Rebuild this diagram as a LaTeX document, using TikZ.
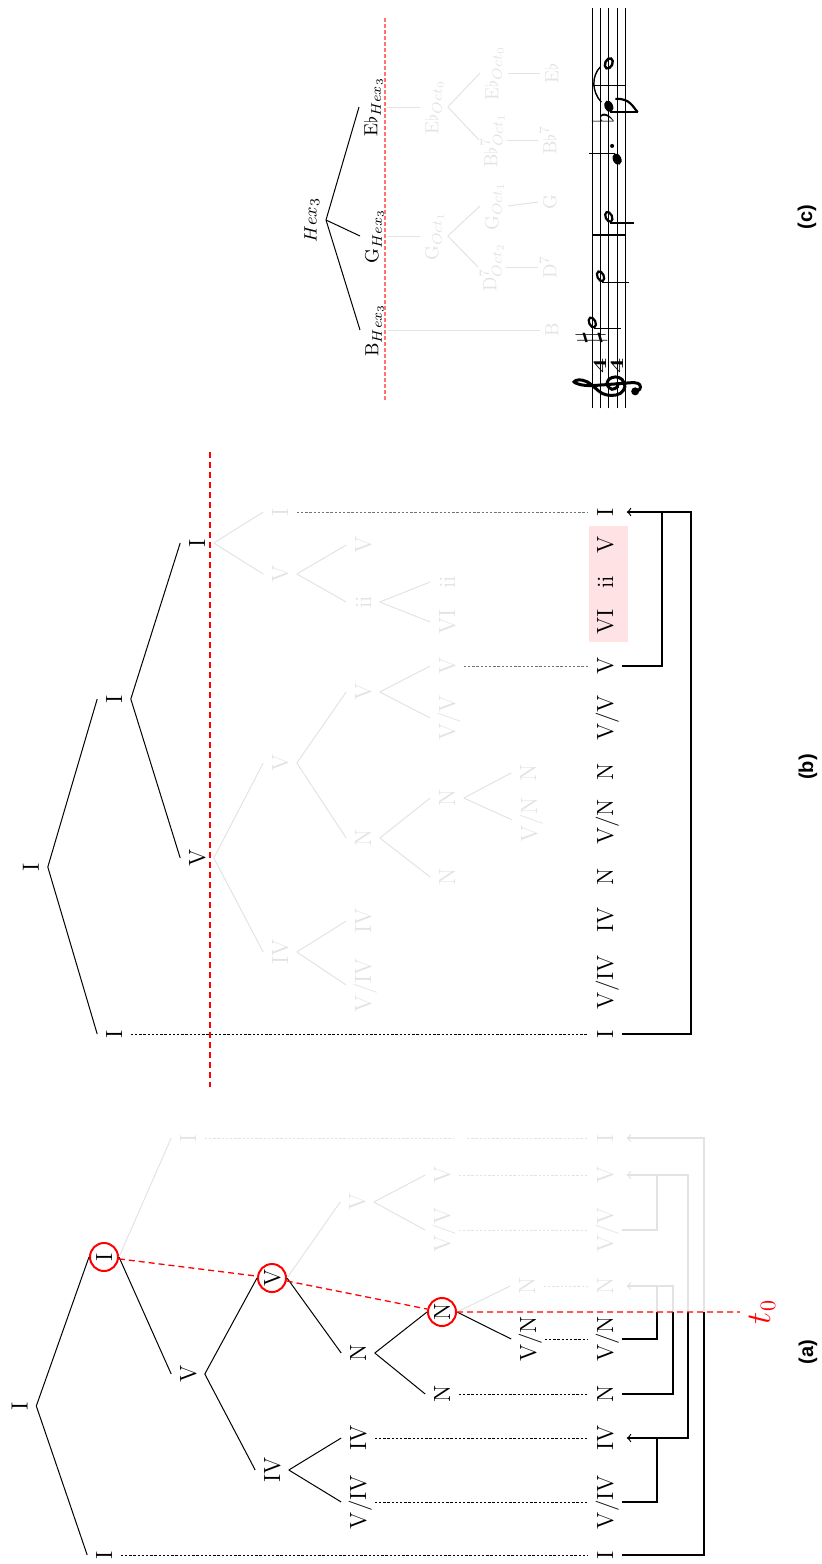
\documentclass[tikz,border=0pt]{standalone}
\usepackage{fontspec}
\newfontfamily\panelfont{Liberation Sans}
\definecolor{lightg}{gray}{0.89}
\definecolor{midg}{gray}{0.45}
\definecolor{pinkbg}{RGB}{255,226,228}
\begin{document}
\begin{tikzpicture}[x=0.5pt,y=-0.5pt,
  lbl/.style={rotate=90, font=\fontsize{11.7}{14}\selectfont, text height=8pt, text depth=0pt, inner sep=4.2pt},
  blk/.style={lbl},
  gry/.style={lbl, text=lightg},
  ring/.style={lbl, circle, draw=red, line width=1pt, minimum size=14pt, inner sep=0pt},
  clbl/.style={rotate=90, font=\fontsize{9.5}{11}\selectfont, text height=7pt, text depth=2.5pt, inner sep=2pt},
  cgry/.style={clbl, text=lightg},
  edge/.style={line width=0.5pt},
  gedge/.style={line width=0.5pt, draw=lightg},
  dots/.style={line width=0.45pt, dash pattern=on 1.2pt off 0.9pt},
  gdots/.style={dots, draw=lightg},
  mdots/.style={dots, draw=midg},
  conn/.style={line width=0.6pt},
  gconn/.style={line width=0.6pt, draw=lightg},
  arr/.style={->, shorten >=2.5pt},
  reddash/.style={draw=red, line width=0.65pt, dash pattern=on 3pt off 2pt},
  lightred/.style={draw=red!55, line width=0.6pt, dash pattern=on 2pt off 1pt},
  panel/.style={rotate=90, font=\panelfont\bfseries\fontsize{10}{12}\selectfont},
  tnode/.style={rotate=90, text=red, font=\fontsize{16}{18}\selectfont},
  mtext/.style={rotate=90, inner sep=0pt},
  tsig/.style={rotate=90, inner sep=0pt, yscale=0.7, font=\bfseries\fontsize{13.5}{13.5}\selectfont},
  openhead/.style={line width=1.1pt},
  stem/.style={line width=0.6pt}
]
\useasboundingbox (0,0) rectangle (822,1564);

%================ panel (a) ================
\node[blk] (aR) at (19.5,1406) {I};
\node[ring] (aI1) at (104,1257) {I};
\node[blk] (aI2) at (104,1555) {I};
\node[blk] (aV1) at (188,1374) {V};
\node[gry] (aGI) at (188,1138) {I};
\node[ring] (aV2) at (272,1278) {V};
\node[blk] (aIV1) at (272,1470) {IV};
\node[blk] (aN1) at (358,1353) {N};
\node[gry] (aGV1) at (357,1202) {V};
\node[blk] (aIV2) at (358,1438) {IV};
\node[blk] (aVIV) at (358,1502) {V/IV};
\node[ring] (aN2) at (442,1312) {N};
\node[blk] (aN3) at (442,1394) {N};
\node[blk] (aVN) at (528,1339) {V/N};
\node[gry] (aGN) at (527,1286) {N};
\node[gry] (aGV2) at (442,1175) {V};
\node[gry] (aGVV) at (442,1230) {V/V};
% leaves
\node[gry] (aL1) at (605,1138) {I};
\node[gry] (aL2) at (605,1175) {V};
\node[gry] (aL3) at (605,1230) {V/V};
\node[gry] (aL4) at (605,1286) {N};
\node[blk] (aL5) at (605,1339) {V/N};
\node[blk] (aL6) at (605,1394) {N};
\node[blk] (aL7) at (605,1438) {IV};
\node[blk] (aL8) at (605,1502) {V/IV};
\node[blk] (aL9) at (605,1555) {I};
% tree edges
\draw[edge] (aR.south) -- (aI1.north);
\draw[edge] (aR.south) -- (aI2.north);
\draw[edge] (aI1.south) -- (aV1.north);
\draw[gedge] (aI1.south) -- (aGI.north);
\draw[edge] (aV1.south) -- (aV2.north);
\draw[edge] (aV1.south) -- (aIV1.north);
\draw[edge] (aV2.south) -- (aN1.north);
\draw[gedge] (aV2.south) -- (aGV1.north);
\draw[edge] (aIV1.south) -- (aIV2.north);
\draw[edge] (aIV1.south) -- (aVIV.north);
\draw[edge] (aN1.south) -- (aN2.north);
\draw[edge] (aN1.south) -- (aN3.north);
\draw[edge] (aN2.south) -- (aVN.north);
\draw[gedge] (aN2.south) -- (aGN.north);
\draw[gedge] (aGV1.south) -- (aGV2.north);
\draw[gedge] (aGV1.south) -- (aGVV.north);
% dotted
\coordinate (gapA) at (453,1138);
\coordinate (gapB) at (467,1138);
\draw[dots] (aI2.south) -- (aL9.north);
\draw[dots] (aVIV.south) -- (aL8.north);
\draw[dots] (aIV2.south) -- (aL7.north);
\draw[dots] (aN3.south) -- (aL6.north);
\draw[dots] (aVN.south) -- (aL5.north);
\draw[gdots] (aGN.south) -- (aL4.north);
\draw[gdots] (aGVV.south) -- (aL3.north);
\draw[gdots] (aGV2.south) -- (aL2.north);
\draw[gdots] (aGI.south) -- (gapA);
\draw[gdots] (gapB) -- (aL1.north);
% connectors
\coordinate (cA) at (657,1438);
\coordinate (cB) at (688,1438);
\coordinate (cBt) at (688,1312);
\coordinate (cBg) at (688,1175);
\coordinate (cC) at (657,1175);
\coordinate (cD) at (673,1312);
\coordinate (cDg) at (673,1286);
\coordinate (cE) at (657,1312);
\coordinate (cEg) at (657,1286);
\coordinate (cF) at (704,1312);
\coordinate (cFg) at (704,1138);
\draw[gconn,arr] (cBt) -- (cBg) -- (aL2.south);
\draw[gconn] (aL3.south) -| (cC);
\draw[gconn,arr] (cD) -- (cDg) -- (aL4.south);
\draw[gconn] (cE) -- (cEg);
\draw[gconn,arr] (cF) -- (cFg) -- (aL1.south);
\draw[conn,arr] (aL8.south) -| (cA) -- (aL7.south);
\draw[conn] (cA) -- (cB) -- (cBt);
\draw[conn] (aL6.south) -| (cD);
\draw[conn] (aL5.south) -| (cE);
\draw[conn] (aL9.south) -| (cF);
% red time line
\coordinate (t0end) at (740,1312);
\draw[reddash] (aI1) -- (aV2) -- (aN2) -- (t0end);
\node[tnode] (t0) at (762,1312) {$t_0$};
\node[panel] (pa) at (808,1352) {(a)};

%================ panel (b) ================
\node[blk] (bR) at (31,867) {I};
\node[blk] (bI1) at (114,699) {I};
\node[blk] (bI2) at (114,1034) {I};
\node[blk] (bV) at (197,858) {V};
\node[blk] (bI3) at (197,543) {I};
\node[gry] (gI) at (280,512) {I};
\node[gry] (gV1) at (280,574) {V};
\node[gry] (gV2) at (363,545) {V};
\node[gry] (gii) at (363,602) {ii};
\node[gry] (gii2) at (447,582) {ii};
\node[gry] (gVI) at (447,622) {VI};
\node[gry] (gV3) at (280,763) {V};
\node[gry] (gV4) at (363,692) {V};
\node[gry] (gV5) at (447,666) {V};
\node[gry] (gVV) at (447,718) {V/V};
\node[gry] (gN1) at (363,838) {N};
\node[gry] (gN2) at (447,798) {N};
\node[gry] (gN3) at (528,773) {N};
\node[gry] (gVN) at (529,820) {V/N};
\node[gry] (gN4) at (447,877) {N};
\node[gry] (gIV) at (280,952) {IV};
\node[gry] (gIV2) at (363,921) {IV};
\node[gry] (gVIV) at (363,985) {V/IV};
% pink highlight
\fill[pinkbg] (589,526) rectangle (628,642);
% leaves
\node[blk] (bL1) at (605,512) {I};
\node[blk] (bL2) at (605,545) {V};
\node[blk] (bL3) at (605,582) {ii};
\node[blk] (bL4) at (605,622) {VI};
\node[blk] (bL5) at (605,666) {V};
\node[blk] (bL6) at (605,718) {V/V};
\node[blk] (bL7) at (605,772) {N};
\node[blk] (bL8) at (605,822) {V/N};
\node[blk] (bL9) at (605,877) {N};
\node[blk] (bL10) at (605,920) {IV};
\node[blk] (bL11) at (605,982) {V/IV};
\node[blk] (bL12) at (605,1034) {I};
% edges
\draw[edge] (bR.south) -- (bI1.north);
\draw[edge] (bR.south) -- (bI2.north);
\draw[edge] (bI1.south) -- (bV.north);
\draw[edge] (bI1.south) -- (bI3.north);
\draw[gedge] (bI3.south) -- (gI.north);
\draw[gedge] (bI3.south) -- (gV1.north);
\draw[gedge] (gV1.south) -- (gV2.north);
\draw[gedge] (gV1.south) -- (gii.north);
\draw[gedge] (gii.south) -- (gii2.north);
\draw[gedge] (gii.south) -- (gVI.north);
\draw[gedge] (bV.south) -- (gV3.north);
\draw[gedge] (bV.south) -- (gIV.north);
\draw[gedge] (gV3.south) -- (gV4.north);
\draw[gedge] (gV3.south) -- (gN1.north);
\draw[gedge] (gV4.south) -- (gV5.north);
\draw[gedge] (gV4.south) -- (gVV.north);
\draw[gedge] (gN1.south) -- (gN2.north);
\draw[gedge] (gN1.south) -- (gN4.north);
\draw[gedge] (gN2.south) -- (gN3.north);
\draw[gedge] (gN2.south) -- (gVN.north);
\draw[gedge] (gIV.south) -- (gIV2.north);
\draw[gedge] (gIV.south) -- (gVIV.north);
% dotted
\draw[dots] (bI2.south) -- (bL12.north);
\draw[mdots] (gI.south) -- (bL1.north);
\draw[mdots] (gV5.south) -- (bL5.north);
% connectors
\coordinate (bj) at (662,512);
\coordinate (bk) at (691,512);
\draw[conn,arr] (bL5.south) -| (bj) -- (bL1.south);
\draw[conn] (bL12.south) -| (bk) -- (bj);
% red dashed
\coordinate (rb1) at (210,452);
\coordinate (rb2) at (210,1087);
\draw[reddash] (rb1) -- (rb2);
\node[panel] (pb) at (808,767) {(b)};

%================ panel (c) ================
\node[clbl, anchor=south] (hex) at (326,220) {$Hex_3$};
\node[clbl, anchor=north] (cB) at (360,330) {B$_{Hex_3}$};
\node[clbl, anchor=north] (cG) at (360,236) {G$_{Hex_3}$};
\node[clbl, anchor=north] (cE) at (359,107) {E$\flat_{Hex_3}$};
\draw[edge] (hex.south) -- (cB.north);
\draw[edge] (hex.south) -- (cG.north);
\draw[edge] (hex.south) -- (cE.north);
\node[cgry, anchor=north] (cBl) at (540,330) {B};
\node[cgry, anchor=north] (cGO) at (420,236) {G$_{Oct_1}$};
\node[cgry, anchor=north] (cGO1) at (480,206) {G$_{Oct_1}$};
\node[cgry, anchor=north] (cDO) at (478,267) {D$^7_{Oct_2}$};
\node[cgry, anchor=north] (cGl) at (538,202) {G};
\node[cgry, anchor=north] (cDl) at (538,267) {D$^7$};
\node[cgry, anchor=north] (cEO) at (420,107) {E$\flat_{Oct_0}$};
\node[cgry, anchor=north] (cEO0) at (480,73) {E$\flat_{Oct_0}$};
\node[cgry, anchor=north] (cBbO) at (479,140) {B$\flat^7_{Oct_1}$};
\node[cgry, anchor=north] (cEl) at (540,73) {E$\flat$};
\node[cgry, anchor=north] (cBbl) at (538,140) {B$\flat^7$};
\draw[gedge] (cB.south) -- (cBl.north);
\draw[gedge] (cG.south) -- (cGO.north);
\draw[gedge] (cGO.south) -- (cGO1.north);
\draw[gedge] (cGO.south) -- (cDO.north);
\draw[gedge] (cGO1.south) -- (cGl.north);
\draw[gedge] (cDO.south) -- (cDl.north);
\draw[gedge] (cE.south) -- (cEO.north);
\draw[gedge] (cEO.south) -- (cEO0.north);
\draw[gedge] (cEO.south) -- (cBbO.north);
\draw[gedge] (cEO0.south) -- (cEl.north);
\draw[gedge] (cBbO.south) -- (cBbl.north);
\coordinate (rc1) at (385,18);
\coordinate (rc2) at (385,400);
\draw[lightred] (rc1) -- (rc2);
\node[panel] (pc) at (807,217) {(c)};

% music staff
\begin{scope}[shift={(625.3,400)}, rotate=90, x=4.125pt, y=4.125pt]
\foreach \v in {0,1,2,3,4} \draw[line width=0.5pt] (-1,\v) -- (47.5,\v);
\draw[line width=0.8pt] (20,0) -- (20,4);
\draw[line width=0.8pt] (38.1,0) -- (38.1,4);
% clef
\draw[line width=1.5pt, line cap=round] plot[smooth, tension=0.6] coordinates {(1.0,-1.0) (1.3,-1.75) (1.85,-1.75) (2.1,-1.1) (2.0,0.5) (1.85,2.5) (1.75,4.2) (1.85,5.4) (2.2,6.2) (2.45,5.6) (2.2,4.6) (1.5,3.7) (0.8,2.8) (0.55,1.7) (0.8,0.6) (1.6,0.05) (2.5,0.4) (2.8,1.2) (2.5,2.0) (1.8,2.2) (1.3,1.6) (1.6,0.95) (2.0,1.0)};
\fill (1.05,-1.2) circle (2pt);
% time signature
\node[tsig] at (4.1,3) {4};
\node[tsig] at (4.1,1) {4};
% note 1: F#5 half
\node[mtext, font=\fontsize{16}{16}\selectfont] at (7.5,4.1) {$\sharp$};
\draw[openhead] (9.4,4) ellipse [x radius=2.6pt, y radius=1.6pt, rotate=25];
\draw[stem] (8.65,3.8) -- (8.65,0.5);
% note 2: D5 half
\draw[openhead] (15,3) ellipse [x radius=2.6pt, y radius=1.6pt, rotate=25];
\draw[stem] (14.25,2.8) -- (14.25,-0.4);
% note 3: B4 half
\draw[openhead] (22.2,2) ellipse [x radius=2.6pt, y radius=1.6pt, rotate=25];
\draw[stem] (21.45,1.8) -- (21.45,-1.05);
% note 4: G4 dotted quarter
\fill (29.2,1) ellipse [x radius=3pt, y radius=2.1pt, rotate=25];
\draw[stem] (29.9,1.2) -- (29.9,4.4);
\fill (30.8,1.6) circle (1pt);
% note 5: Bb4 eighth
\node[mtext, font=\fontsize{15}{15}\selectfont] at (34.2,2.75) {$\flat$};
\fill (35.6,2) ellipse [x radius=3pt, y radius=2.1pt, rotate=25];
\draw[stem] (34.9,1.8) -- (34.9,-1.5);
\draw[line width=1.1pt] (34.9,-1.5) .. controls (35.5,-0.9) and (36.6,-0.6) .. (36.5,1.2);
% tie and whole note
\draw[line width=0.7pt] (36.1,2.9) .. controls (37.4,4.1) and (39.3,4.1) .. (40.4,3.0);
\draw[line width=1.2pt] (40.8,2) ellipse [x radius=2.7pt, y radius=1.8pt, rotate=-25];
\end{scope}
\end{tikzpicture}
\end{document}
